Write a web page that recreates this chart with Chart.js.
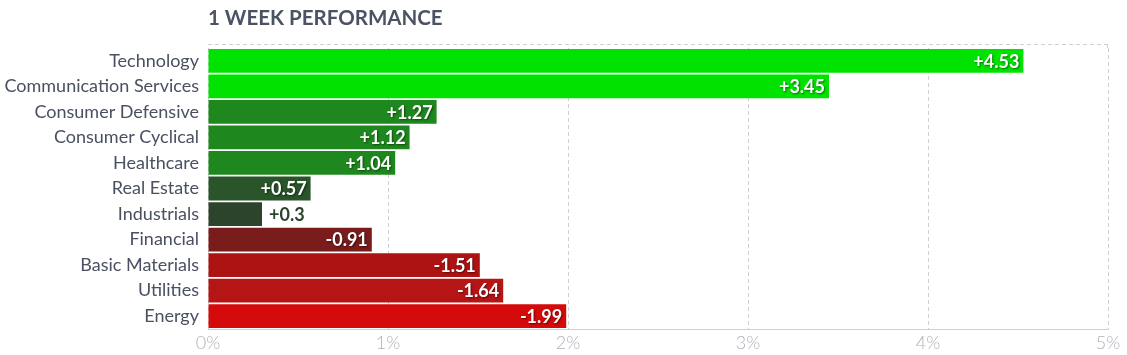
<!DOCTYPE html>
<html>
<head>
<meta charset="utf-8">
<script src="https://cdn.jsdelivr.net/npm/chart.js@4/dist/chart.umd.min.js"></script>
<style>
html,body{margin:0;padding:0;background:#fff;}
#wrap{width:1127px;height:355px;position:relative;}
</style>
</head>
<body>
<div id="wrap"><canvas id="c" width="1127" height="355"></canvas></div>
<script>
const title = '1 WEEK PERFORMANCE';
const categories = ['Technology','Communication Services','Consumer Defensive','Consumer Cyclical','Healthcare','Real Estate','Industrials','Financial','Basic Materials','Utilities','Energy'];
const values = [4.53, 3.45, 1.27, 1.12, 1.04, 0.57, 0.3, -0.91, -1.51, -1.64, -1.99];
const barColors = ['#00e300','#00e300','#1e881e','#1e881e','#1e881e','#2a552a','#2c442c','#7a1c1c','#ad1313','#b51515','#d50a0a'];
const xTicks = [0,1,2,3,4,5];

const fmt = v => (v > 0 ? '+' : '') + v;

const titlePlugin = {
  id: 'titlePlugin',
  afterDraw(chart) {
    const ctx = chart.ctx;
    ctx.save();
    ctx.font = 'bold 20.5px Lato';
    ctx.fillStyle = '#4b5264';
    ctx.textAlign = 'left';
    ctx.textBaseline = 'middle';
    ctx.fillText(title, chart.chartArea.left, 18);
    ctx.restore();
  }
};

const topBorder = {
  id: 'topBorder',
  beforeDatasetsDraw(chart) {
    const {ctx, chartArea} = chart;
    ctx.save();
    ctx.strokeStyle = '#d0d0d4';
    ctx.lineWidth = 1;
    ctx.setLineDash([4,3]);
    ctx.beginPath();
    ctx.moveTo(chartArea.left, chartArea.top - 3.5);
    ctx.lineTo(chartArea.right, chartArea.top - 3.5);
    ctx.moveTo(chartArea.right - 0.5, chartArea.top - 3.5);
    ctx.lineTo(chartArea.right - 0.5, chartArea.top);
    ctx.stroke();
    ctx.restore();
  }
};

const valueLabels = {
  id: 'valueLabels',
  afterDatasetsDraw(chart) {
    const ctx = chart.ctx;
    const meta = chart.getDatasetMeta(0);
    ctx.save();
    ctx.font = 'bold 18px Lato';
    ctx.textBaseline = 'middle';
    meta.data.forEach((bar, i) => {
      const txt = fmt(values[i]);
      const w = ctx.measureText(txt).width;
      const barW = bar.x - bar.base;
      if (barW < w + 30) {
        ctx.textAlign = 'left';
        ctx.shadowColor = 'transparent';
        ctx.fillStyle = barColors[i];
        ctx.fillText(txt, bar.x + 7, bar.y + 1);
      } else {
        ctx.textAlign = 'right';
        ctx.shadowColor = 'rgba(0,0,0,0.5)';
        ctx.shadowBlur = 2;
        ctx.shadowOffsetX = 1;
        ctx.shadowOffsetY = 1;
        ctx.fillStyle = '#ffffff';
        ctx.fillText(txt, bar.x - 4, bar.y + 1);
      }
    });
    ctx.restore();
  }
};

new Chart(document.getElementById('c'), {
  type: 'bar',
  data: {
    labels: categories,
    datasets: [{
      data: values.map(v => Math.abs(v)),
      backgroundColor: barColors,
      borderWidth: 0,
      barPercentage: 0.93,
      categoryPercentage: 1.0
    }]
  },
  options: {
    indexAxis: 'y',
    responsive: false,
    animation: false,
    events: [],
    layout: { padding: { top: 48, right: 19, left: 0, bottom: 0 } },
    plugins: { legend: { display: false }, title: { display: false }, tooltip: { enabled: false } },
    scales: {
      x: {
        min: 0, max: 5,
        afterBuildTicks(axis) { axis.ticks = xTicks.map(v => ({ value: v })); },
        afterFit(axis) { axis.height = 26; },
        ticks: {
          callback: v => v + '%',
          color: '#b0b0b8',
          font: { family: 'Lato', size: 18, weight: 300 },
          padding: 3,
          maxRotation: 0
        },
        grid: { color: '#d0d0d4', drawTicks: false, lineWidth: 1 },
        border: { display: true, color: '#d0d0d4', dash: [4,3] }
      },
      y: {
        afterFit(axis) { axis.width = 208; },
        ticks: {
          color: '#4a5061',
          font: { family: 'Lato', size: 18 },
          padding: 9,
          autoSkip: false
        },
        grid: { display: false, drawTicks: false },
        border: { display: false }
      }
    }
  },
  plugins: [titlePlugin, topBorder, valueLabels]
});
</script>
<script>
(function(){
  const ch = Chart.getChart('c');
  ch.options.scales.x.grid.tickBorderDash = [4,3];
  ch.options.scales.x.border.dash = [4,3];
  ch.options.scales.x.grid.borderDash = [4,3];
  ch.update();
})();
</script>
</body>
</html>
